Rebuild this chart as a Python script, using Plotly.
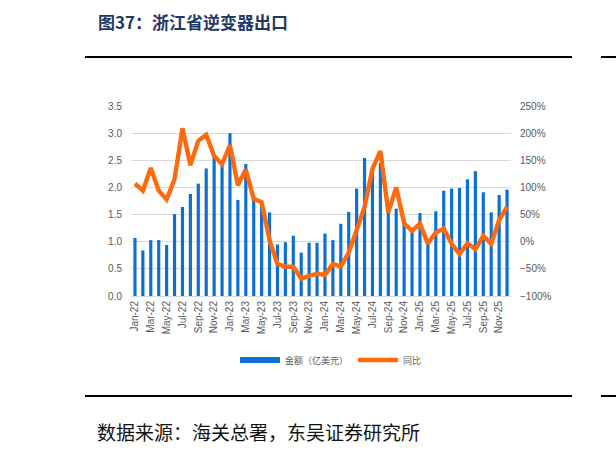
import plotly.graph_objects as go

months = ["Jan", "Feb", "Mar", "Apr", "May", "Jun", "Jul", "Aug", "Sep", "Oct", "Nov", "Dec"]
years = ["22", "23", "24", "25"]
categories = [f"{m}-{y}" for y in years for m in months]

amount = [1.07, 0.84, 1.03, 1.03, 0.94, 1.51, 1.64, 1.88, 2.07, 2.35, 2.57, 2.44,
          3.00, 1.77, 2.43, 1.78, 1.70, 1.54, 0.95, 0.99, 1.11, 0.80, 0.98, 0.98,
          1.15, 1.03, 1.33, 1.55, 1.98, 2.54, 2.30, 2.45, 1.60, 1.61, 1.35, 1.20,
          1.53, 0.98, 1.56, 1.94, 1.98, 1.99, 2.15, 2.30, 1.91, 1.54, 1.86, 1.96]

yoy = [107, 94, 136, 94, 78, 115, 209, 141, 186, 197, 158, 143,
       178, 104, 133, 79, 73, 3, -41, -46, -46, -68, -63, -59,
       -61, -41, -46, -20, 21, 64, 134, 167, 54, 100, 34, 20,
       33, -3, 17, 24, -4, -23, -3, -14, 11, -4, 40, 64]

tick_labels = categories[::2]

bar_name = "金额（亿美元）"
line_name = "同比"
title_text = "图37：浙江省逆变器出口"
source_text = "数据来源：海关总署，东吴证券研究所"

BAR_COLOR = "#0a70d2"
LINE_COLOR = "#ff6a0d"

# layout geometry (pixels)
W, H = 616, 454
PL, PR, PT, PB = 131, 511, 106, 296
pw, ph = PR - PL, PB - PT


def px(x):
    return (x - PL) / pw


def py(y):
    return (PB - y) / ph


fig = go.Figure()
fig.add_trace(go.Bar(x=categories, y=amount, name=bar_name,
                     marker=dict(color=BAR_COLOR, line=dict(width=0)),
                     yaxis="y", showlegend=False))
# legend proxy giving the wide flat swatch of the reference
fig.add_trace(go.Scatter(x=[None], y=[None], name=bar_name, mode="lines",
                         line=dict(color=BAR_COLOR, width=6), yaxis="y"))
fig.add_trace(go.Scatter(x=categories, y=yoy, name=line_name, mode="lines",
                         line=dict(color=LINE_COLOR, width=4.4),
                         yaxis="y2"))

tickfont = dict(family="Liberation Sans, Arial, sans-serif", size=10, color="#595959")

fig.update_layout(
    width=W, height=H,
    margin=dict(l=PL, r=W - PR, t=PT, b=H - PB, pad=0),
    paper_bgcolor="white", plot_bgcolor="white",
    bargap=0.6,
    showlegend=True,
    legend=dict(orientation="h", x=px(331), xanchor="center", y=py(360), yanchor="middle",
                font=dict(family="Noto Sans CJK SC", size=9, color="#595959"),
                itemwidth=40, tracegroupgap=0, bgcolor="rgba(0,0,0,0)"),
    xaxis=dict(type="category", tickmode="array", tickvals=tick_labels, ticktext=tick_labels,
               tickangle=-90, tickfont=tickfont, showgrid=False, showline=True,
               linecolor="#d9d9d9", linewidth=1, ticks="", ticklen=0),
    yaxis=dict(range=[0, 3.5], dtick=0.5, tickformat=".1f", tickfont=tickfont,
               showgrid=True, gridcolor="#d9d9d9", gridwidth=1, zeroline=False,
               showline=False, ticks="", ticklabelstandoff=8),
    yaxis2=dict(range=[-100, 250], dtick=50, ticksuffix="%", tickfont=tickfont,
                overlaying="y", side="right", showgrid=False, zeroline=False,
                showline=False, ticks="", ticklabelstandoff=8),
)

line_style = dict(color="black", width=2)
shapes = [
    dict(type="line", xref="paper", yref="paper", x0=px(85), x1=px(572), y0=py(57), y1=py(57), line=line_style),
    dict(type="line", xref="paper", yref="paper", x0=px(601), x1=px(616), y0=py(57), y1=py(57), line=line_style),
    dict(type="line", xref="paper", yref="paper", x0=px(85), x1=px(572), y0=py(396), y1=py(396), line=line_style),
    dict(type="line", xref="paper", yref="paper", x0=px(601), x1=px(616), y0=py(396), y1=py(396), line=line_style),
]
fig.update_layout(shapes=shapes)

fig.add_annotation(text="<b>" + title_text + "</b>", xref="paper", yref="paper",
                   x=px(96), y=py(21.5), xanchor="left", yanchor="middle", showarrow=False,
                   font=dict(family="Noto Sans CJK SC", size=17, color="#1f3864"))
fig.add_annotation(text=source_text, xref="paper", yref="paper",
                   x=px(95), y=py(431), xanchor="left", yanchor="middle", showarrow=False,
                   font=dict(family="Noto Sans CJK SC", size=19, color="#111111"))

fig.write_html("out.html")
